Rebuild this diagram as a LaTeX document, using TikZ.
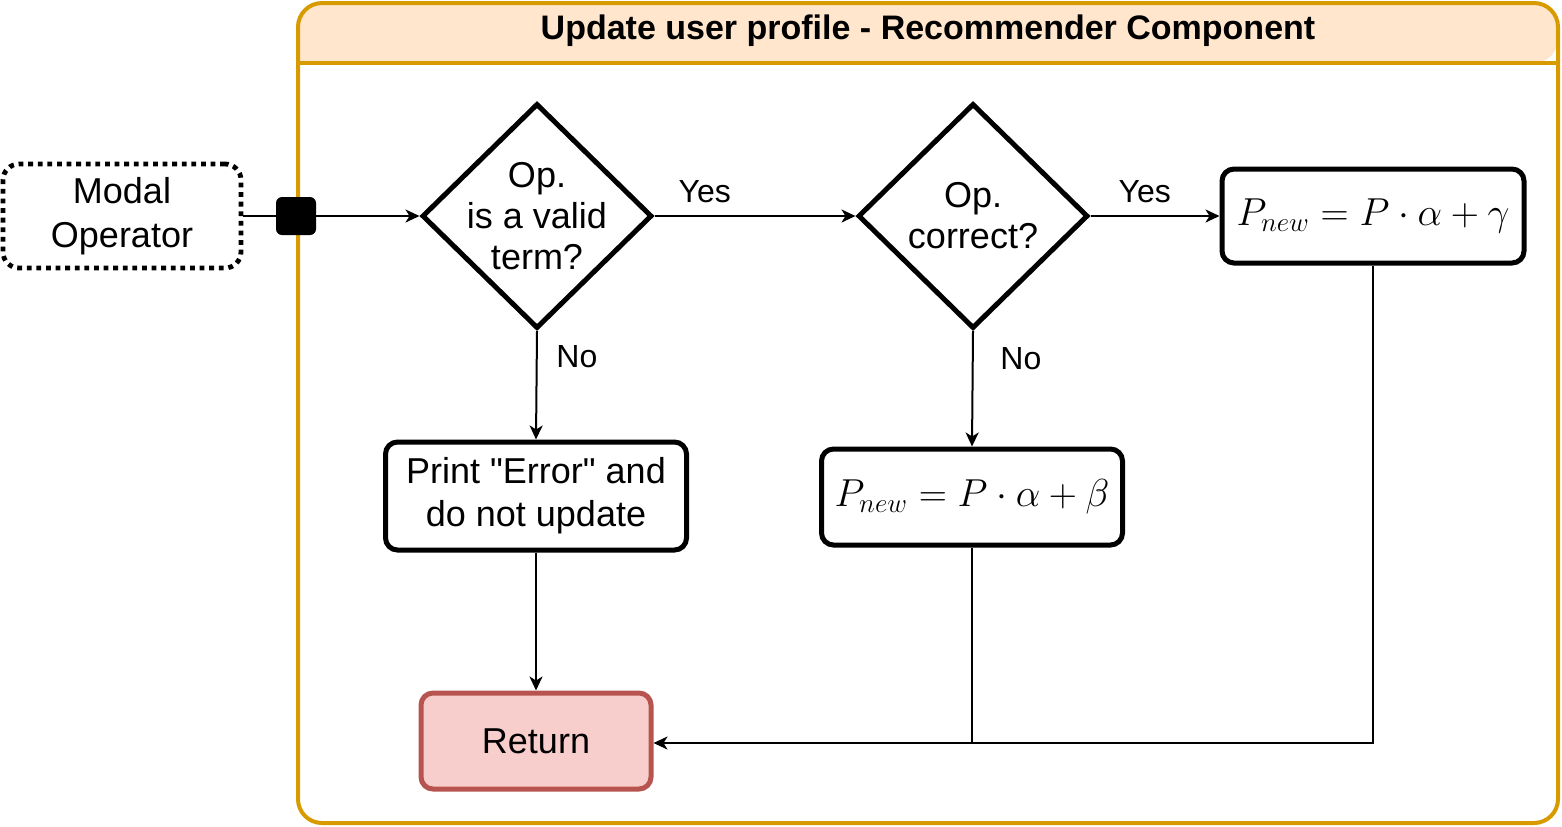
\documentclass[tikz,border=0pt]{standalone}
\usepackage{fontspec}
\setmainfont{Liberation Sans}[Ligatures=TeXOff]
\usetikzlibrary{shapes.geometric,arrows.meta}
\definecolor{contorange}{HTML}{D79B00}
\definecolor{headfill}{HTML}{FFE6CC}
\definecolor{retfill}{HTML}{F8CECC}
\definecolor{retline}{HTML}{B85450}
\tikzset{
  procbox/.style={draw=black, line width=2.5pt, rounded corners=6pt, fill=white, inner sep=0pt, align=center, font=\fontsize{18}{21.5}\selectfont},
  decision/.style={diamond, draw=black, line width=2.5pt, fill=white, inner sep=0pt, minimum width=115pt, minimum height=112.5pt},
  dectext/.style={align=center, font=\fontsize{18}{20.5}\selectfont},
  conn/.style={line width=1pt, draw=black},
  arr/.style={conn, -{Stealth[length=7pt,width=6.5pt,inset=2pt]}},
  lbl/.style={font=\fontsize{16}{18}\selectfont},
  mathbox/.style={procbox, font=\fontsize{20.74}{24}\selectfont},
}
\begin{document}
\begin{tikzpicture}[x=0.5pt,y=-0.5pt]
\useasboundingbox (0,0) rectangle (1562,826);
% container
\fill[headfill, rounded corners=12pt] (298,63) |- (928,3) -| (1558,63) [sharp corners] -- cycle;
\draw[contorange, line width=2pt] (298,63) -- (1558,63);
\draw[contorange, line width=2pt, rounded corners=12pt] (298,3) rectangle (1558,823);
\node[font=\bfseries\fontsize{17}{20}\selectfont] (title) at (928,31) {Update user profile - Recommender Component};

% modal operator
\node[draw=black, line width=2.4pt, dash pattern=on 2.4pt off 2.4pt, rounded corners=8pt, minimum width=119pt, minimum height=52pt, inner sep=0pt, align=center, font=\fontsize{18}{22}\selectfont] (modal) at (122,216) {Modal\\Operator};
\node[fill=black, rounded corners=3pt, minimum width=20pt, minimum height=19pt, inner sep=0pt] (port) at (296,216) {};

% decisions
\node[decision] (d1) at (537,216) {};
\node[dectext] (d1t) at (537,216) {Op.\\is a valid\\term?};
\node[decision] (d2) at (973,216) {};
\node[dectext] (d2t) at (973,216) {Op.\\correct?};

% boxes
\node[mathbox, minimum width=151pt, minimum height=47pt] (gamma) at (1373,216) {\scalebox{0.94}{$P_{new} = P\cdot\alpha + \gamma$}};
\node[procbox, minimum width=150.5pt, minimum height=54pt] (err) at (536,496) {Print "Error" and\\do not update};
\node[mathbox, minimum width=150.5pt, minimum height=48pt] (beta) at (972,497) {\scalebox{0.94}{$P_{new} = P\cdot\alpha + \beta$}};
\node[procbox, draw=retline, fill=retfill, minimum width=115pt, minimum height=48pt] (ret) at (536,741) {Return};

% connectors
\draw[conn] (modal.east) -- (port.west);
\draw[arr] (port.east) -- (d1.west);
\draw[arr] (d1.east) -- node[lbl, pos=0.25, above=3pt] (yes1) {Yes} (d2.west);
\draw[arr] (d2.east) -- node[lbl, pos=0.42, above=3pt] (yes2) {Yes} (gamma.west);
\draw[arr] (d1.south) -- node[lbl, pos=0.24, right=6pt] (no1) {No} (err.north);
\draw[arr] (d2.south) -- node[lbl, pos=0.24, right=10pt] (no2) {No} (beta.north);
\draw[arr] (err.south) -- (ret.north);
\coordinate (retin) at ([yshift=-1pt]ret.east);
\draw[arr] (gamma.south) |- (retin);
\coordinate (junc) at (beta.south |- retin);
\draw[conn] (beta.south) -- (junc);
\end{tikzpicture}
\end{document}
